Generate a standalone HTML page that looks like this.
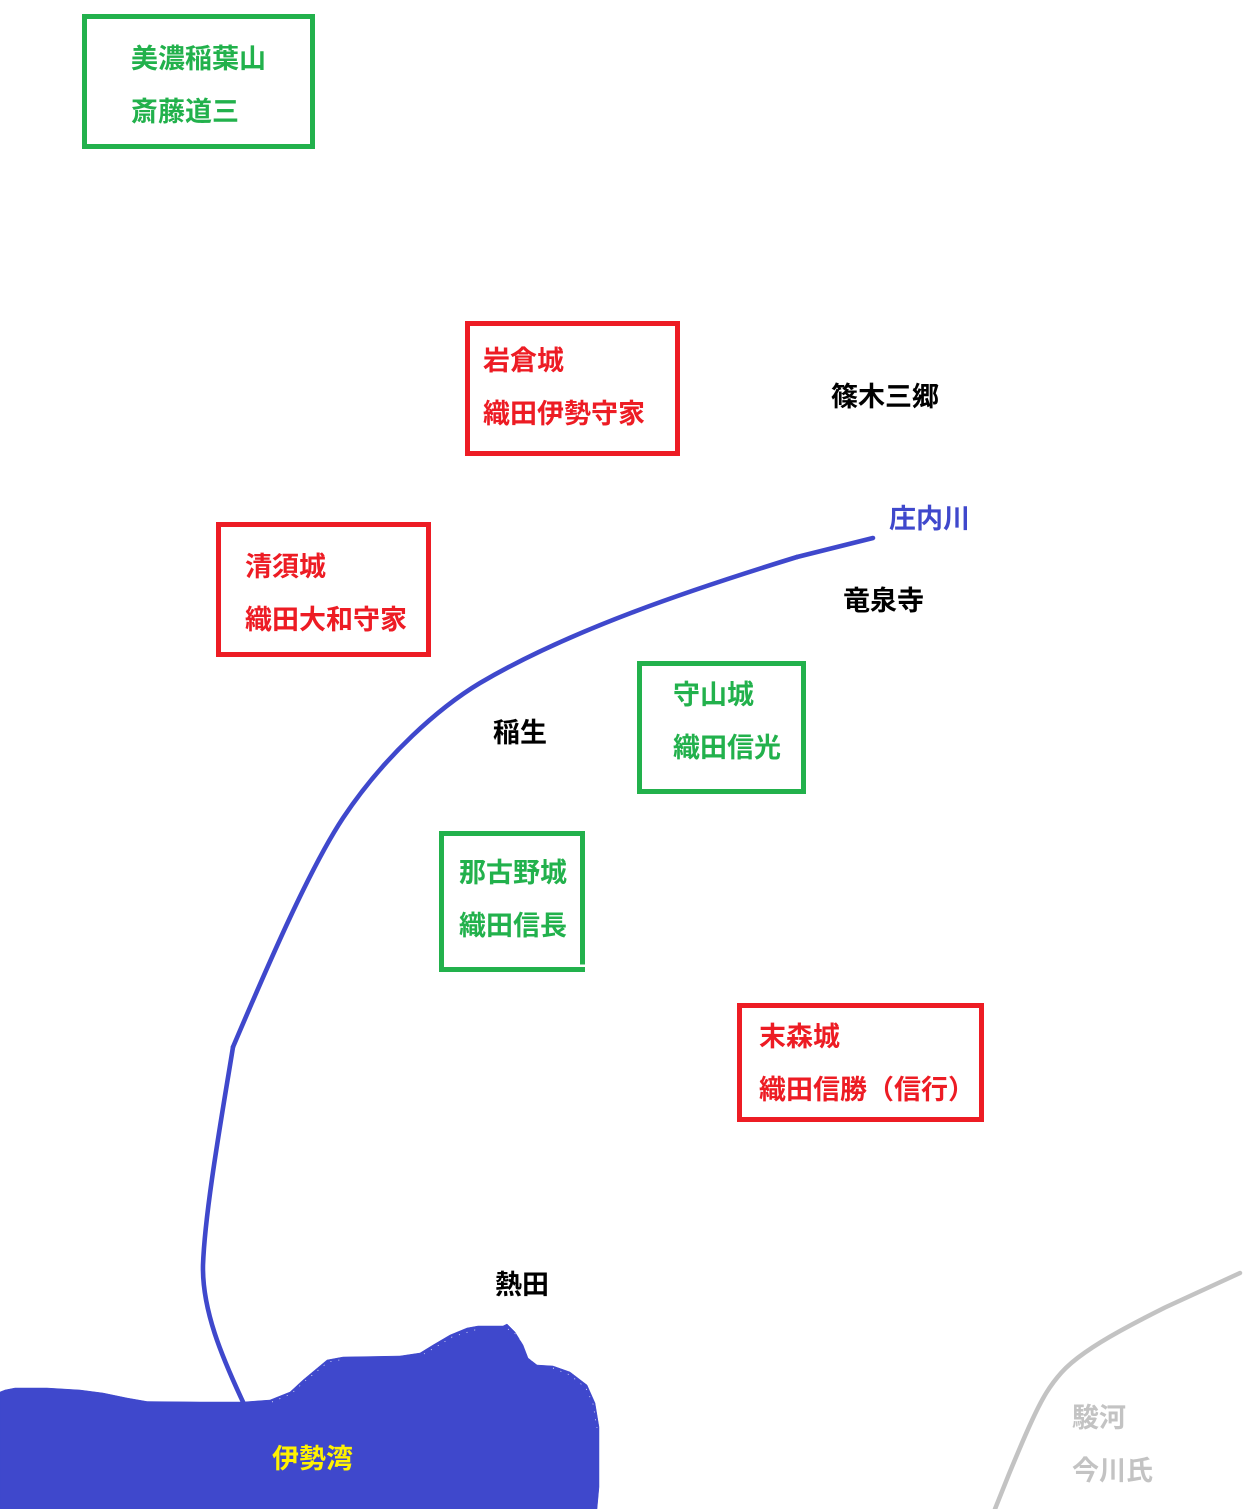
<!DOCTYPE html>
<html><head><meta charset="utf-8"><style>
html,body{margin:0;padding:0;background:#fff}
svg{display:block}
text{font-family:"Liberation Sans","Noto Sans CJK JP",sans-serif;font-weight:700;font-size:27px}
.g{fill:#22b14c}.r{fill:#ed1c24}.k{fill:#000}.b{fill:#3f48cc}.y{fill:#fff200}.s{fill:#c3c3c3}
</style></head><body>
<svg width="1245" height="1509" viewBox="0 0 1245 1509" xmlns="http://www.w3.org/2000/svg">
<rect width="1245" height="1509" fill="#fff"/>
<g fill="none" stroke-width="5">
<rect x="84.5" y="16.5" width="228" height="130" stroke="#22b14c"/>
<rect x="467.5" y="323.5" width="210" height="130" stroke="#ed1c24"/>
<rect x="218.5" y="524.5" width="210" height="130" stroke="#ed1c24"/>
<rect x="639.5" y="663.5" width="164" height="128" stroke="#22b14c"/>
<rect x="441.5" y="833.5" width="141" height="136" stroke="#22b14c"/>
<rect x="739.5" y="1005.5" width="242" height="114" stroke="#ed1c24"/>
</g>
<rect x="580" y="964.5" width="7" height="2.5" fill="#fff"/>
<path d="M0 1392 5 1390 15 1388 47 1388 80 1390 103 1393 127 1398 147 1401.5 200 1402 243 1402 270 1400 290 1392 303 1380 327 1360 343 1357 400 1356 420 1353 433 1345 450 1335 467 1328 478 1326 503 1326 507 1324 515 1332 523 1345 528 1358 537 1365 553 1366 570 1372 587 1385 595 1403 599 1427 599 1487 597 1509 0 1509Z" fill="#3f48cc" stroke="#3f48cc" stroke-width="0.5"/>
<path d="M272 1402 291 1394 304 1382 328 1362 345 1359M424 1354 436 1347 452 1337 478 1329M508 1329 517 1335 525 1347 530 1359 537 1364M553 1368 570 1375 586 1388 593 1404 597 1428" fill="none" stroke="#fff" stroke-width="0.7" stroke-dasharray="1 7"/>
<g fill="none" stroke="#3f48cc" stroke-width="4.6" stroke-linecap="round" stroke-linejoin="round">
<path d="M873 538 797 557"/>
<path d="M797 557C690 590 570 630 480 683C440 707 385 755 343 818C310 868 270 960 233 1047"/>
<path d="M233 1047C222 1115 205 1210 203 1265C202 1310 222 1357 243 1402"/>
</g>
<path d="M1240 1273 1165 1307.5Q1140 1320 1120 1331Q1100 1342 1085 1352.5Q1070 1363 1061.5 1372.5Q1053 1382 1046.5 1392.5Q1040 1403 1031.5 1421.5Q1023 1440 1009 1474L995 1509" fill="none" stroke="#c3c3c3" stroke-width="4.5" stroke-linecap="round"/>
<text class="g" x="131" y="68">美濃稲葉山</text>
<text class="g" x="131" y="121">斎藤道三</text>
<text class="r" x="483" y="370">岩倉城</text>
<text class="r" x="483" y="423">織田伊勢守家</text>
<text class="k" x="831" y="406">篠木三郷</text>
<text class="b" x="889" y="528">庄内川</text>
<text class="k" x="843" y="610">竜泉寺</text>
<text class="r" x="245" y="576">清須城</text>
<text class="r" x="245" y="629">織田大和守家</text>
<text class="g" x="673" y="704">守山城</text>
<text class="g" x="673" y="757">織田信光</text>
<text class="k" x="493" y="742">稲生</text>
<text class="g" x="459" y="882">那古野城</text>
<text class="g" x="459" y="935">織田信長</text>
<text class="r" x="759" y="1046">末森城</text>
<text class="r" x="759" y="1099">織田信勝（信行）</text>
<text class="k" x="495" y="1294">熱田</text>
<text class="y" x="272" y="1468">伊勢湾</text>
<text class="s" x="1072" y="1427">駿河</text>
<text class="s" x="1072" y="1480">今川氏</text>
</svg>
</body></html>
